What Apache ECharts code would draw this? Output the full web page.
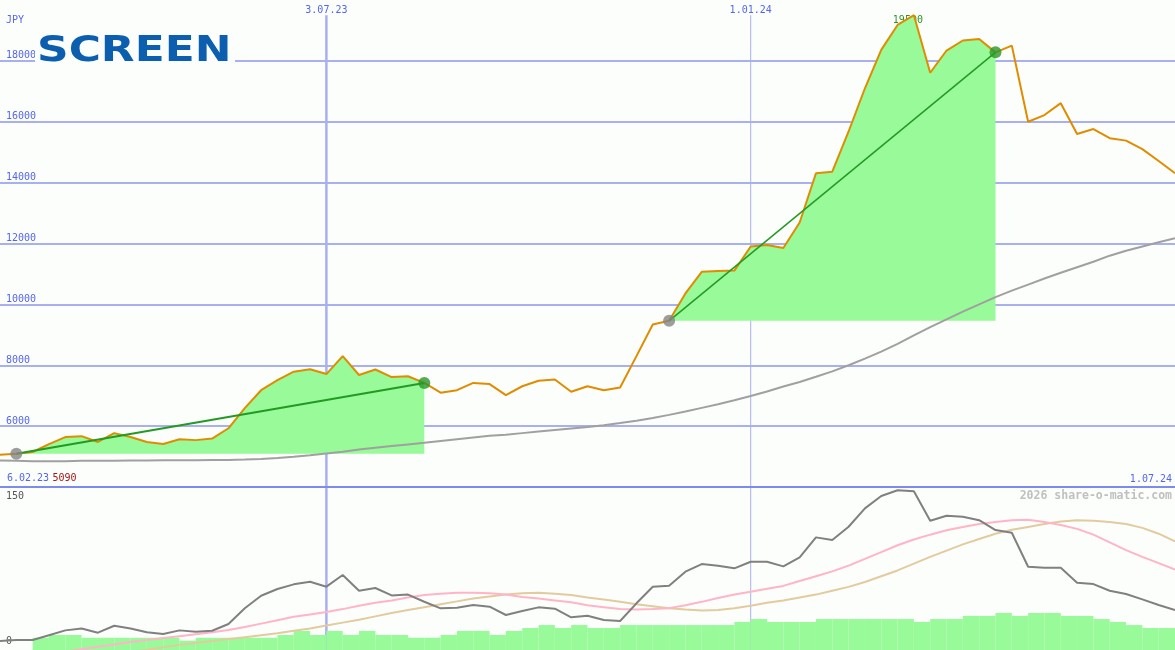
<!DOCTYPE html>
<html><head><meta charset="utf-8">
<script src="https://cdn.jsdelivr.net/npm/echarts@6/dist/echarts.min.js"></script>
<style>html,body{margin:0;padding:0;background:#fcfefb}#c{width:1175px;height:650px}</style>
</head><body><div id="c"></div>
<script>
// ---- data (weekly points, index 0..72) ----
const topTicks = {20: '3.07.23', 46: '1.01.24'};
const edgeTicks = {0: '6.02.23', 72: '1.07.24'};
const price = [5060,5090,5150,5410,5640,5670,5480,5770,5640,5480,
  5410,5570,5540,5590,5930,6590,7180,7510,7790,7870,
  7710,8300,7680,7860,7610,7640,7420,7100,7180,7420,
  7380,7020,7310,7490,7530,7130,7310,7180,7270,8300,
  9340,9460,10360,11070,11100,11110,11900,11950,11850,12690,
  14310,14360,15680,17100,18360,19180,19500,17610,18340,18670,
  18720,18280,18500,16000,16220,16610,15600,15760,15460,15380,
  15100,14710,14310];
const movingAvg = [4870,4860,4850,4850,4850,4860,4860,4860,4870,4870,
  4880,4880,4880,4890,4890,4900,4920,4950,4990,5040,
  5100,5160,5230,5290,5350,5400,5450,5510,5570,5630,
  5680,5720,5770,5820,5870,5920,5970,6030,6100,6180,
  6270,6370,6480,6600,6720,6850,6990,7140,7300,7450,
  7620,7800,8000,8220,8450,8700,8980,9250,9510,9760,
  10000,10240,10450,10650,10850,11040,11220,11400,11600,11760,
  11900,12040,12170];
const oscillator = [0,1,1,6,11,13,8.6,15.8,13,9,
  7.2,11,9.6,10.6,17.6,33.8,46.8,53.8,58.6,61.3,
  56.2,68.3,52,54.8,47.2,48,40.6,33.8,34.4,37.2,
  35.5,26.9,31,34.8,33.4,24.5,26.2,21.7,20.7,39,
  56.2,57.2,71.7,79.6,77.9,75.2,82,82,77.2,86.5,
  107.2,104.4,118.2,137.2,150,156,155,124.4,129.6,128.5,
  125,114.8,112,76.8,75.8,75.8,60.3,58.9,52,48.6,
  43.1,37.2,32];
const oscFast = ['-','-','-','-',-11,-8.5,-6,-3.5,-1,1,
  3,5,7,9,11.5,14.5,18,21.5,25,27.5,
  30,33,36.5,39.5,42,45,47.5,49,50,50,
  49.5,48,45.5,44,42,40,37,35,33,32.5,
  33,34,37,40.5,44.5,48,51,54,57,62,
  67,72,78,85,92,99,105,110,114.5,118,
  121,123,125,125.5,123,120,116,110,102,94,
  87,80.5,74];
const oscSlow = ['-','-','-','-','-','-','-','-',-11.5,-9,
  -6.5,-4,-2,0,2,4,6,8,10.5,13,
  16,19,22,25.5,29,32,35,38,41,44,
  46,48,49.5,50,49,47.5,45,43,40.5,38,
  36,34,32.5,31.5,32,34,36.5,39.5,42,45,
  48,52,56,61,67,73,80,87,93.5,100,
  105.5,111,115,118,121,123.5,125,124.5,123,121,
  117,111,103];
const volume = [0,0,7.5,9.2,9.2,7.5,7.5,7.5,7.5,7.5,
  7.5,5.7,7.5,7.5,7.5,7.5,7.5,9.2,11.7,9.2,
  11.7,9.2,11.7,9.2,9.2,7.5,7.5,9.2,11.7,11.7,
  9.2,11.7,13.5,15.3,13.5,15.3,13.5,13.5,15.3,15.3,
  15.3,15.3,15.3,15.3,15.3,17.2,19,17.2,17.2,17.2,
  19,19,19,19,19,19,17.2,19,19,20.9,
  20.9,22.7,20.9,22.7,22.7,20.9,20.9,19,17.2,15.3,
  13.5,13.5];
const trendPairs = [[1, 26], [41, 61]];
const lowerTicks = [0, 150];

// ---- styles ----
const BG = '#fcfefb', GRIDC = '#a8b0f0', SEP = '#7d8aee', LBL = '#5566ee';
const FILL = '#98fa98', ORANGE = '#e08c00', TREND = '#239a23';
const FONT = '"DejaVu Sans Mono", monospace';
const VTOP = 19500, VBOTTOM = 4000;
const LOW_MIN = -9.3, LOW_MAX = 159.3;
const vWidths = [2.5, 1];

const cats = price.map((_, i) => i);
const volCats = volume.map((_, i) => i);
const segment = (a, b) => price.map((v, i) => (i >= a && i <= b) ? v : '-');
const vIdx = Object.keys(topTicks).map(Number);

const chart = echarts.init(document.getElementById('c'), null, {renderer: 'canvas'});
const series = [];
// vertical date lines (drawn as series, lowest z)
vIdx.forEach((ix, k) => {
  series.push({type: 'line', xAxisIndex: 0, yAxisIndex: 0, data: [[ix, VBOTTOM], [ix, VTOP]], symbol: 'none', showSymbol: false,
    lineStyle: {color: GRIDC, width: vWidths[k]}, z: 1, silent: true, clip: false});
  series.push({type: 'line', xAxisIndex: 2, yAxisIndex: 1, data: [[ix, LOW_MIN], [ix, LOW_MAX]], symbol: 'none', showSymbol: false,
    lineStyle: {color: GRIDC, width: vWidths[k]}, z: 1, silent: true});
});
trendPairs.forEach(([a, b]) => series.push({
  type: 'line', xAxisIndex: 0, yAxisIndex: 0, data: segment(a, b), symbol: 'none', showSymbol: false,
  lineStyle: {width: 0}, areaStyle: {color: FILL, opacity: 1, origin: price[a]}, z: 10, silent: true
}));
series.push({
  type: 'line', xAxisIndex: 0, yAxisIndex: 0, data: movingAvg, symbol: 'none', showSymbol: false,
  lineStyle: {color: '#a0a0a0', width: 2}, z: 11, silent: true,
  markLine: {
    symbol: 'none', silent: true, animation: false, label: {show: false},
    data: [{yAxis: VBOTTOM, lineStyle: {color: SEP, width: 2, type: 'solid'}}]
  }
});
series.push({
  type: 'line', xAxisIndex: 0, yAxisIndex: 0, data: price, symbol: 'none', showSymbol: false,
  lineStyle: {color: ORANGE, width: 2}, z: 12, silent: true,
  markPoint: {
    symbol: 'circle', symbolSize: 0, silent: true, animation: false,
    data: [{type: 'max'}],
    label: {show: true, position: 'inside', offset: [-6, 5], color: '#2a962a', fontFamily: FONT, fontSize: 10, formatter: '{c}'}
  }
});
trendPairs.forEach(([a, b], k) => series.push({
  type: 'line', xAxisIndex: 0, yAxisIndex: 0, data: [[a, price[a]], [b, price[b]]], symbol: 'none', showSymbol: false,
  lineStyle: {color: TREND, width: k === 0 ? 2 : 1.5}, z: 13, silent: true
}));
series.push({
  type: 'scatter', xAxisIndex: 0, yAxisIndex: 0, symbolSize: 12, z: 14, silent: true,
  data: trendPairs.map(([a]) => ({value: [a, price[a]], itemStyle: {color: '#858585'}}))
    .concat(trendPairs.map(([, b]) => ({value: [b, price[b]], itemStyle: {color: '#2a962a'}})))
});
// lower panel
series.push({
  type: 'bar', xAxisIndex: 3, yAxisIndex: 2, data: volume, barCategoryGap: '0%', barGap: '0%',
  itemStyle: {color: FILL}, z: 10, silent: true
});
series.push({type: 'line', xAxisIndex: 2, yAxisIndex: 1, data: oscSlow, symbol: 'none', showSymbol: false,
  lineStyle: {color: '#e2cb9e', width: 2}, z: 11, silent: true});
series.push({type: 'line', xAxisIndex: 2, yAxisIndex: 1, data: oscFast, symbol: 'none', showSymbol: false,
  lineStyle: {color: '#ffb4c8', width: 2}, z: 11, silent: true});
series.push({type: 'line', xAxisIndex: 2, yAxisIndex: 1, data: oscillator, symbol: 'none', showSymbol: false,
  lineStyle: {color: '#808080', width: 2}, z: 12, silent: true});

const option = {
  backgroundColor: BG,
  animation: false,
  grid: [{left: 0, right: 0, top: 0, height: 487}, {left: 0, right: 0, top: 487, height: 163}],
  xAxis: [
    {gridIndex: 0, type: 'category', data: cats, boundaryGap: false, position: 'top',
      axisLine: {show: false}, axisTick: {show: false}, splitLine: {show: false},
      axisLabel: {inside: true, margin: 5, interval: (i) => topTicks[i] !== undefined,
        formatter: (v, i) => topTicks[i] || '', color: LBL, fontFamily: FONT, fontSize: 10, verticalAlign: 'top'}},
    {gridIndex: 0, type: 'category', data: cats, boundaryGap: false, position: 'bottom',
      axisLine: {show: false}, axisTick: {show: false}, splitLine: {show: false},
      axisLabel: {inside: true, margin: 3, interval: (i) => edgeTicks[i] !== undefined,
        alignMinLabel: 'left', alignMaxLabel: 'right', padding: [0, 3, 0, 7], verticalAlign: 'bottom',
        formatter: (v, i) => i === 0 ? `{d|${edgeTicks[0]}} {r|${price[trendPairs[0][0]]}}` : `{d|${edgeTicks[i] || ''}}`,
        rich: {d: {color: LBL, fontFamily: FONT, fontSize: 10}, r: {color: '#a01818', fontFamily: FONT, fontSize: 10}}}},
    {gridIndex: 1, type: 'category', data: cats, boundaryGap: false, show: false},
    {gridIndex: 1, type: 'category', data: volCats, boundaryGap: true, show: false}
  ],
  yAxis: [
    {gridIndex: 0, type: 'value', min: 4000, max: 20000, interval: 2000,
      axisLine: {show: false}, axisTick: {show: false},
      axisLabel: {inside: true, margin: 6, verticalAlign: 'bottom', showMinLabel: false, showMaxLabel: false,
        formatter: (v) => String(v), color: LBL, fontFamily: FONT, fontSize: 10},
      splitLine: {show: true, lineStyle: {width: 2, color: ['transparent', GRIDC, GRIDC, GRIDC, GRIDC, GRIDC, GRIDC, GRIDC, 'transparent']}}},
    {gridIndex: 1, type: 'value', min: LOW_MIN, max: LOW_MAX,
      axisLine: {show: false}, axisTick: {show: false}, splitLine: {show: false},
      axisLabel: {inside: true, margin: 6, customValues: lowerTicks, color: '#555555', fontFamily: FONT, fontSize: 10}},
    {gridIndex: 1, type: 'value', min: 0, max: 100, show: false}
  ],
  graphic: [
    {type: 'rect', left: 35, top: 33, shape: {width: 200, height: 32}, style: {fill: BG}, z: 100},
    {type: 'text', x: 37, y: 34, scaleX: 1.22, style: {text: 'SCREEN', font: 'bold 36px "DejaVu Sans"', fill: '#0b5fae'}, z: 101},
    {type: 'text', left: 6, top: 15, style: {text: 'JPY', font: '10px "DejaVu Sans Mono"', fill: LBL}, z: 101},
    {type: 'text', right: 3, top: 490, style: {text: '2026 share-o-matic.com', font: 'bold 11.5px "DejaVu Sans Mono"', fill: '#c0c0c0'}, z: 101}
  ],
  series: series
};
chart.setOption(option);
</script>
</body></html>
